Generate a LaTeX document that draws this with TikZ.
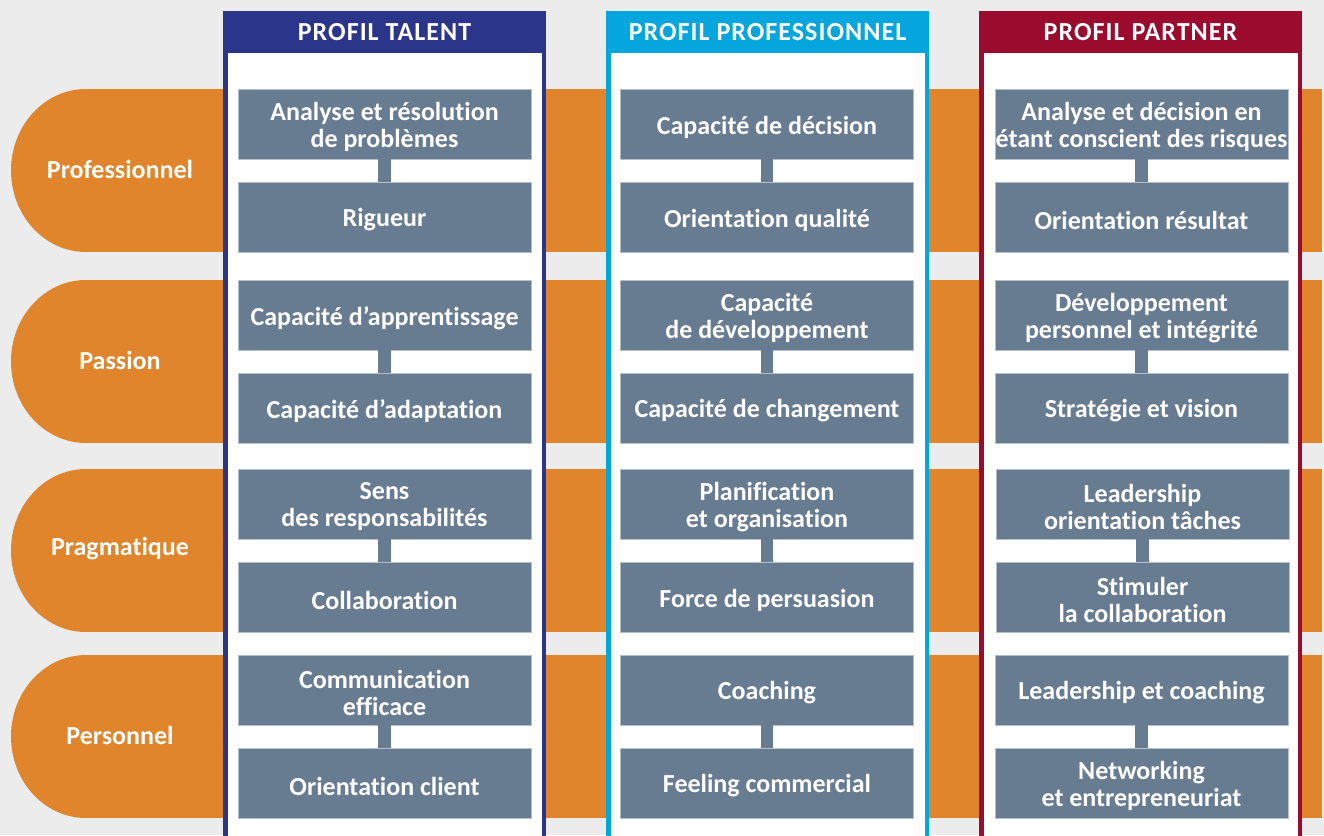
\documentclass[tikz,border=0pt]{standalone}
\usepackage{fontspec}
\setmainfont{Carlito}[Ligatures=NoCommon]
\definecolor{bg}{HTML}{ECECEC}
\definecolor{band}{HTML}{E0852B}
\definecolor{boxgray}{HTML}{687C91}
\definecolor{boxedge}{HTML}{B4BFCB}
\definecolor{talent}{HTML}{2B3589}
\definecolor{pro}{HTML}{05A5DE}
\definecolor{partner}{HTML}{9B0B2E}
\tikzset{
  txt/.style={text=white, font=\bfseries\fontsize{26}{27}\selectfont, inner sep=0pt, align=center},
  headtxt/.style={txt, font=\bfseries\fontsize{26}{27}\selectfont\addfontfeature{LetterSpace=4}},
  skill/.style={fill=boxgray, draw=boxedge, line width=0.8pt,
    minimum width=293pt, minimum height=70pt, inner sep=0pt},
  link/.style={boxgray, line width=12.5pt},
  panelline/.style={line width=4.5pt, fill=white},
}
% one orange band with a rounded left end
\newcommand\bandrow[3]{% name, top, label
  \fill[band] (86,#2) rectangle (1322,#2+163);
  \fill[band] (86,#2+81.5) ellipse [x radius=75, y radius=81.5];
  \node[txt] (#1) at (120,#2+80) {#3};
}
% one column panel with its header
\newcommand\profilepanel[5]{% name, left, right, colour, title
  \filldraw[panelline, draw=#4] (#2+2.25,13.25) rectangle (#3-2.25,860);
  \fill[#4] (#2,11) rectangle (#3,53);
  \node[headtxt] (#1) at ({(#2+#3)/2},32) {#5};
}
% two linked skill boxes with their texts
\newcommand\skillpair[5]{% name, x centre, top, first text, second text
  \node[skill] (#1a) at (#2,#3+35) {};
  \node[skill] (#1b) at (#2,#3+128) {};
  \draw[link] (#1a.south) -- (#1b.north);
  \node[txt, yshift=-3pt] (#1at) at (#1a.center) {#4};
  \node[txt, yshift=-3pt] (#1bt) at (#1b.center) {#5};
}
\begin{document}
\begin{tikzpicture}[x=1pt, y=-1pt]
  \useasboundingbox (0,0) rectangle (1324,835);
  \clip (0,0) rectangle (1324,835);
  \fill[bg] (0,0) rectangle (1324,835);

  \bandrow{lprof}{89}{Professionnel}
  \bandrow{lpass}{280}{Passion}
  \bandrow{lprag}{469}{Pragmatique}
  \bandrow{lpers}{655}{Personnel}

  \profilepanel{htal}{223}{546}{talent}{PROFIL TALENT}
  \profilepanel{hpro}{606}{929}{pro}{PROFIL PROFESSIONNEL}
  \profilepanel{hpar}{979}{1302}{partner}{PROFIL PARTNER}

  % PROFIL TALENT
  \skillpair{t1}{384.5}{89}{Analyse et résolution\\de problèmes}{Rigueur}
  \skillpair{t2}{384.5}{280}{Capacité d’apprentissage}{Capacité d’adaptation}
  \skillpair{t3}{384.5}{469}{Sens\\des responsabilités}{Collaboration}
  \skillpair{t4}{384.5}{655}{Communication\\efficace}{Orientation client}

  % PROFIL PROFESSIONNEL
  \skillpair{p1}{767}{89}{Capacité de décision}{Orientation qualité}
  \skillpair{p2}{767}{280}{Capacité\\de développement}{Capacité de changement}
  \skillpair{p3}{767}{469}{Planification\\et organisation}{Force de persuasion}
  \skillpair{p4}{767}{655}{Coaching}{Feeling commercial}

  % PROFIL PARTNER
  \skillpair{r1}{1141.5}{89}{Analyse et décision en\\étant conscient des risques}{Orientation résultat}
  \skillpair{r2}{1141.5}{280}{Développement\\personnel et intégrité}{Stratégie et vision}
  \skillpair{r3}{1142.5}{469}{Leadership\\orientation tâches}{Stimuler\\la collaboration}
  \skillpair{r4}{1141.5}{655}{Leadership et coaching}{Networking\\et entrepreneuriat}
\end{tikzpicture}
\end{document}
